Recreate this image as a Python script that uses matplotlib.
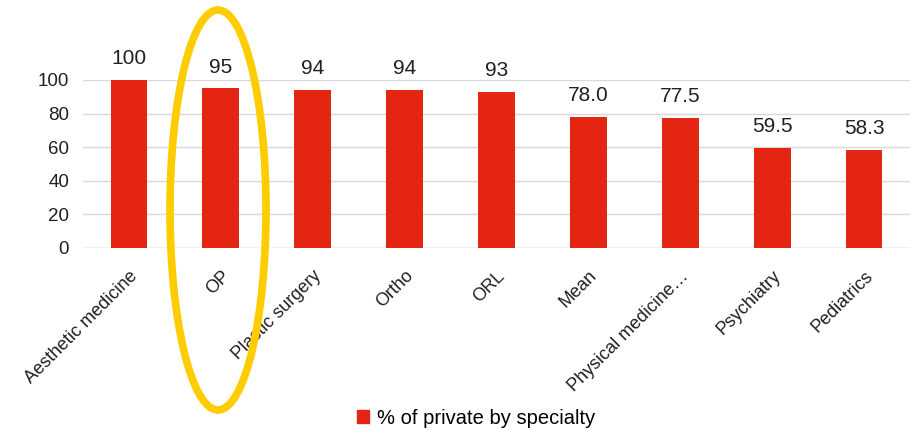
import matplotlib
matplotlib.use("Agg")
import matplotlib.pyplot as plt
from matplotlib.patches import Ellipse, Patch

plt.rcParams['font.family'] = ['Liberation Sans', 'DejaVu Sans']

categories = ["Aesthetic medicine", "OP", "Plastic surgery", "Ortho", "ORL", "Mean",
              "Physical medicine…", "Psychiatry", "Pediatrics"]
values = [100, 95, 94, 94, 93, 78.0, 77.5, 59.5, 58.3]
value_labels = ["100", "95", "94", "94", "93", "78.0", "77.5", "59.5", "58.3"]
yticks = [0, 20, 40, 60, 80, 100]
series_name = "% of private by specialty"

bar_color = "#E32512"
text_color = "#231F20"

fig = plt.figure(figsize=(9.19, 4.34), dpi=100)
ax = fig.add_axes([83/919, 1-248/434, (910-83)/919, 168/434])

x = list(range(len(categories)))
ax.bar(x, values, width=0.4, color=bar_color, zorder=3)
for xi, v, lab in zip(x, values, value_labels):
    ax.text(xi, v + 7, lab, ha='center', va='bottom', fontsize=15, color=text_color)

ax.set_xlim(-0.5, len(categories) - 0.5)
ax.set_ylim(0, 100)
ax.set_yticks(yticks)
ax.set_yticklabels([str(t) for t in yticks], fontsize=13.5, color=text_color)
ax.yaxis.grid(True, color="#D9D9D9", linewidth=1, zorder=0)
ax.set_axisbelow(True)
ax.tick_params(axis='both', length=0, pad=10)
for s in ax.spines.values():
    s.set_visible(False)
ax.axhline(0, color="#D9D9D9", linewidth=1, zorder=1)

ax.set_xticks(x)
ax.set_xticklabels(categories, rotation=45, ha='right', rotation_mode='anchor',
                   fontsize=13, color=text_color)
ax.tick_params(axis='x', pad=14)

# highlight ring around the OP column
ring = Ellipse((218/919, 1-210/434), 96/919, 400/434, transform=fig.transFigure,
               fill=False, edgecolor="#FFCC00", linewidth=5.5, zorder=10)
fig.patches.append(ring)

fig.legend(handles=[Patch(color=bar_color, label=series_name)], loc='center',
           bbox_to_anchor=(476/919, 1-418/434), frameon=False, fontsize=14.5,
           handlelength=0.6, handleheight=0.6, handletextpad=0.4)

fig.savefig("out.png", dpi=100, facecolor="white")
